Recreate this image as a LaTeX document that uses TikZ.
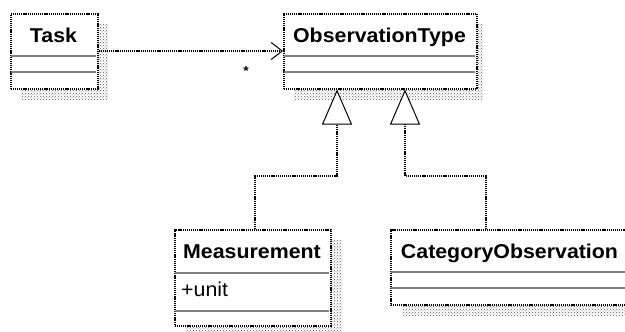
\documentclass[tikz,border=0pt]{standalone}
\usepackage{fontspec}
\setmainfont{Liberation Sans}[FakeStretch=1.067]
\usetikzlibrary{arrows.meta,patterns}
\begin{document}
\begin{tikzpicture}[x=1pt,y=-1pt,
  shadowfill/.style={pattern=crosshatch dots, pattern color=black!65},
  classbox/.style={draw=black, dash pattern=on 1.2pt off 0.9pt, line width=1.5pt, fill=white, anchor=north west, inner sep=0pt},
  divider/.style={draw=black!50, line width=1.6pt},
  title/.style={font=\bfseries\fontsize{20}{24}\selectfont, anchor=base, inner sep=0pt},
  attr/.style={font=\fontsize{20}{24}\selectfont, anchor=base west, inner sep=0pt},
  dep/.style={dash pattern=on 1.2pt off 0.9pt, line width=1.8pt, -{Straight Barb[length=11pt, width=17pt, line width=1pt]}},
  gen/.style={dash pattern=on 1.2pt off 0.9pt, line width=1.5pt, -{Triangle[open, length=35pt, width=30pt, fill=white, line width=1pt]}}]
\useasboundingbox (0,0) rectangle (625,332);
% shadows
\fill[shadowfill] (21,24) rectangle (108,99);
\fill[shadowfill] (294,24) rectangle (483,99);
\fill[shadowfill] (185,240) rectangle (342,336);
\fill[shadowfill] (403,240) rectangle (640,315);
% Task
\node[classbox, minimum width=87pt, minimum height=75pt] (task) at (10,13) {};
\node[title] (tasktitle) at (53.5,42) {Task};
\draw[divider] (10.8,56) -- (96.2,56);
\draw[divider] (10.8,72) -- (96.2,72);
% ObservationType
\node[classbox, minimum width=193pt, minimum height=75pt] (obs) at (283,13) {};
\node[title] (obstitle) at (379.5,42) {ObservationType};
\draw[divider] (283.8,56) -- (475.2,56);
\draw[divider] (283.8,72) -- (475.2,72);
% Measurement
\node[classbox, minimum width=156pt, minimum height=96pt] (meas) at (174,229) {};
\node[title] (meastitle) at (252,258) {Measurement};
\draw[divider] (174.8,273) -- (329.2,273);
\node[attr] (unit) at (181,296.5) {+unit};
\draw[divider] (174.8,311) -- (329.2,311);
% CategoryObservation
\node[classbox, minimum width=239pt, minimum height=75pt] (cat) at (390,229) {};
\node[title] (cattitle) at (509.5,258) {CategoryObservation};
\draw[divider] (390.8,272) -- (628,272);
\draw[divider] (390.8,288) -- (628,288);
% connectors
\draw[dep] (task.east |- 0,51) -- (obs.west |- 0,51);
\node[font=\bfseries\fontsize{13}{14}\selectfont, inner sep=0pt] (mult) at (246,71) {*};
\coordinate (gm) at (255,229);
\coordinate (gc) at (486,229);
\draw[gen] (gm) |- (337,176) -- (obs.south -| 337,0);
\draw[gen] (gc) |- (405,176) -- (obs.south -| 405,0);
\end{tikzpicture}
\end{document}
